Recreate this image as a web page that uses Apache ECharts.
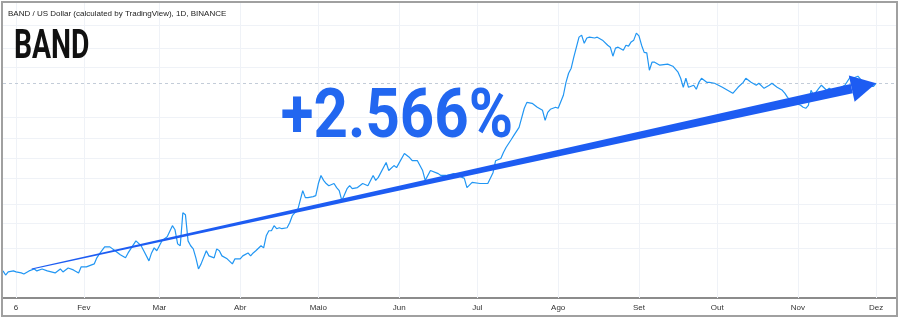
<!DOCTYPE html>
<html><head><meta charset="utf-8">
<script src="https://cdn.jsdelivr.net/npm/echarts@6/dist/echarts.min.js"></script>
<style>html,body{margin:0;padding:0;background:#fff}#c{width:900px;height:320px}</style>
</head><body><div id="c"></div>
<script>
// ---- data (daily closes, approx.) ----
const dates = [
'2020-01-01','2020-01-02','2020-01-03','2020-01-05','2020-01-06','2020-01-08','2020-01-09','2020-01-11','2020-01-13','2020-01-14',
'2020-01-16','2020-01-18','2020-01-21','2020-01-23','2020-01-24','2020-01-26','2020-01-28','2020-01-30','2020-01-31','2020-02-02',
'2020-02-05','2020-02-06','2020-02-07','2020-02-09','2020-02-11','2020-02-13','2020-02-15','2020-02-17','2020-02-18','2020-02-20',
'2020-02-21','2020-02-23','2020-02-24','2020-02-26','2020-02-27','2020-02-28','2020-02-29','2020-03-02','2020-03-04','2020-03-06',
'2020-03-07','2020-03-08','2020-03-09','2020-03-10','2020-03-11','2020-03-12','2020-03-13','2020-03-14','2020-03-15','2020-03-16',
'2020-03-17','2020-03-19','2020-03-20','2020-03-22','2020-03-23','2020-03-24','2020-03-25','2020-03-27','2020-03-29','2020-03-30',
'2020-04-01','2020-04-02','2020-04-04','2020-04-05','2020-04-06','2020-04-07','2020-04-09','2020-04-10','2020-04-11','2020-04-12',
'2020-04-13','2020-04-14','2020-04-15','2020-04-16','2020-04-17','2020-04-19','2020-04-20','2020-04-21','2020-04-22','2020-04-23',
'2020-04-24','2020-04-25','2020-04-26','2020-04-27','2020-04-29','2020-04-30','2020-05-01','2020-05-02','2020-05-03','2020-05-04',
'2020-05-05','2020-05-07','2020-05-08','2020-05-09','2020-05-10','2020-05-12','2020-05-13','2020-05-14','2020-05-16','2020-05-18',
'2020-05-20','2020-05-22','2020-05-23','2020-05-24','2020-05-27','2020-05-28','2020-05-30','2020-05-31','2020-06-03','2020-06-05',
'2020-06-06','2020-06-08','2020-06-10','2020-06-11','2020-06-13','2020-06-16','2020-06-17','2020-06-19','2020-06-22','2020-06-26',
'2020-06-27','2020-06-29','2020-07-02','2020-07-05','2020-07-07','2020-07-08','2020-07-10','2020-07-11','2020-07-12','2020-07-14',
'2020-07-15','2020-07-17','2020-07-19','2020-07-20','2020-07-22','2020-07-24','2020-07-26','2020-07-27','2020-07-28','2020-07-29',
'2020-07-31','2020-08-01','2020-08-03','2020-08-04','2020-08-05','2020-08-06','2020-08-07','2020-08-09','2020-08-10','2020-08-11',
'2020-08-12','2020-08-13','2020-08-15','2020-08-16','2020-08-18','2020-08-20','2020-08-21','2020-08-22','2020-08-23','2020-08-24',
'2020-08-26','2020-08-27','2020-08-28','2020-08-29','2020-08-30','2020-08-31','2020-09-01','2020-09-02','2020-09-03','2020-09-04',
'2020-09-05','2020-09-06','2020-09-07','2020-09-09','2020-09-12','2020-09-14','2020-09-16','2020-09-17','2020-09-18','2020-09-19',
'2020-09-20','2020-09-22','2020-09-23','2020-09-24','2020-09-25','2020-09-27','2020-09-28','2020-09-30','2020-10-03','2020-10-05',
'2020-10-07','2020-10-09','2020-10-11','2020-10-12','2020-10-14','2020-10-16','2020-10-17','2020-10-19','2020-10-21','2020-10-22',
'2020-10-24','2020-10-26','2020-10-27','2020-10-28','2020-10-30','2020-10-31','2020-11-02','2020-11-03','2020-11-04','2020-11-05',
'2020-11-06','2020-11-07','2020-11-09','2020-11-10','2020-11-12','2020-11-13','2020-11-14','2020-11-16','2020-11-17','2020-11-19',
'2020-11-21','2020-11-22','2020-11-24','2020-11-26','2020-11-29','2020-11-30','2020-12-01'
];
const prices = [
0.230,0.214,0.226,0.230,0.226,0.222,0.218,0.230,0.238,0.230,
0.238,0.230,0.222,0.238,0.226,0.242,0.234,0.222,0.247,0.247,
0.260,0.289,0.310,0.350,0.350,0.327,0.305,0.289,0.315,0.363,
0.389,0.357,0.327,0.274,0.315,0.344,0.327,0.389,0.418,0.507,
0.472,0.369,0.357,0.636,0.614,0.389,0.357,0.338,0.289,0.238,
0.260,0.327,0.299,0.289,0.338,0.327,0.299,0.284,0.260,0.284,
0.284,0.299,0.315,0.299,0.315,0.327,0.357,0.344,0.425,0.464,
0.464,0.507,0.481,0.489,0.481,0.489,0.534,0.604,0.636,0.659,
0.785,0.936,0.828,0.828,0.843,0.858,1.06,1.22,1.12,1.06,
1.02,1.06,0.987,0.936,0.785,0.969,1.02,0.969,0.987,1.06,
1.02,1.22,1.12,1.18,1.53,1.33,1.45,1.40,1.79,1.67,
1.58,1.58,1.33,1.12,1.33,1.26,1.22,1.22,1.26,1.16,
0.987,1.08,1.06,1.06,1.28,1.58,1.64,1.82,1.99,2.29,
2.46,2.83,3.95,4.38,4.31,4.02,3.81,3.20,3.68,3.88,
4.02,3.95,4.96,6.22,7.29,7.96,9.65,13.7,14.2,12.3,
13.5,13.7,13.5,13.7,13.0,11.9,11.5,9.82,11.3,11.5,
10.9,11.9,11.7,12.6,13.0,14.7,14.0,11.9,10.5,10.4,
7.68,8.84,8.84,8.39,8.54,8.24,7.42,6.68,5.70,6.68,
5.70,5.91,5.51,6.22,6.68,6.22,6.22,6.12,5.70,5.41,
5.13,5.70,6.22,6.68,6.22,5.91,6.12,5.60,5.91,6.12,
5.70,5.41,5.13,4.78,4.38,4.31,4.16,4.02,3.95,4.16,
5.41,4.96,5.60,5.91,5.41,5.60,5.41,5.60,5.60,5.91,
6.80,6.68,6.92,6.22,5.80,5.80,6.12
];
const tickDates = ['2020-01-06','2020-02-01','2020-03-01','2020-04-01','2020-05-01','2020-06-01','2020-07-01','2020-08-01','2020-09-01','2020-10-01','2020-11-01','2020-12-01'];
const tickLabels = ['6','Fev','Mar','Abr','Maio','Jun','Jul','Ago','Set','Out','Nov','Dez'];
const gridPrices = [0.338,0.525,0.745,1.16,1.64,2.33,3.37,8.10,11.3,16.9];
const lastPrice = 6.12;
const xStart = '2020-01-01', xEnd = '2020-12-09';
const yMin = 0.1432, yMax = 24.89;
const arrowFrom = ['2020-01-12', 0.238];
const arrowTo = ['2020-12-01', 6.12];
const subtitleText = 'BAND / US Dollar (calculated by TradingView), 1D, BINANCE';
const titleText = 'BAND';
const changeText = '+2.566%';

// ---- build ----
const T = d => Date.parse(d + 'T00:00:00Z');
const tickTimes = tickDates.map(T);
const seriesData = dates.map((d, i) => [T(d), prices[i]]);
const labelFor = v => { const i = tickTimes.findIndex(t => Math.abs(t - v) < 43200000); return i >= 0 ? tickLabels[i] : ''; };
const gridColor = '#eff2f7';
const bigFont = 'Roboto,"DejaVu Sans Condensed",sans-serif';

const chart = echarts.init(document.getElementById('c'), null, {renderer: 'canvas'});
chart.setOption({
  animation: false,
  backgroundColor: '#ffffff',
  grid: {left: 3, right: 3, top: 3, bottom: 22},
  xAxis: {
    type: 'value', min: T(xStart), max: T(xEnd), scale: true,
    axisLine: {show: true, onZero: false, lineStyle: {color: '#8c8c8c', width: 2}},
    axisTick: {show: false, customValues: tickTimes},
    splitLine: {show: false},
    axisLabel: {
      customValues: tickTimes,
      formatter: v => labelFor(v),
      fontSize: 8, color: '#333', margin: 6, fontFamily: '"Liberation Sans",Arial,sans-serif',
      hideOverlap: false, showMinLabel: true, showMaxLabel: true
    }
  },
  yAxis: {type: 'log', min: yMin, max: yMax, show: false, splitLine: {show: false}},
  series: [
    {
      type: 'line', data: seriesData, showSymbol: false, symbol: 'none', z: 2,
      lineStyle: {color: '#2196f3', width: 1.2},
      markLine: {
        silent: true, z: 1, symbol: ['none', 'none'], animation: false,
        label: {show: false}, emphasis: {disabled: true},
        lineStyle: {color: gridColor, width: 1, type: 'solid'},
        data: [
          ...gridPrices.map(p => ({yAxis: p})),
          ...tickTimes.map(t => ({xAxis: t})),
          {yAxis: lastPrice, lineStyle: {color: '#c3ccd8', type: [3, 3], width: 1}}
        ]
      }
    },
    {
      type: 'custom', z: 4, silent: true,
      data: [[T(arrowFrom[0]), arrowFrom[1], T(arrowTo[0]), arrowTo[1]]],
      encode: {x: [0, 2], y: [1, 3]},
      renderItem: (params, api) => {
        const s = api.coord([api.value(0), api.value(1)]);
        const t = api.coord([api.value(2), api.value(3)]);
        const dx = t[0] - s[0], dy = t[1] - s[1], L = Math.hypot(dx, dy);
        const ux = dx / L, uy = dy / L, nx = -uy, ny = ux;
        const headLen = 25, headHalf = 13.5, w0 = 0.5, w1 = 4.8;
        const bx = t[0] - ux * headLen, by = t[1] - uy * headLen;
        const col = '#1d5cf2';
        return {type: 'group', children: [
          {type: 'polygon', shape: {points: [[s[0] + nx * w0, s[1] + ny * w0], [bx + nx * w1, by + ny * w1], [bx - nx * w1, by - ny * w1], [s[0] - nx * w0, s[1] - ny * w0]]}, style: {fill: col}},
          {type: 'polygon', shape: {points: [[bx + nx * headHalf, by + ny * headHalf], [t[0], t[1]], [bx - nx * headHalf, by - ny * headHalf]]}, style: {fill: col}}
        ]};
      }
    }
  ],
  graphic: [
    {type: 'rect', z: 100, silent: true, shape: {x: 2, y: 2, width: 895, height: 314}, style: {fill: 'none', stroke: '#a0a0a0', lineWidth: 2}},
    {type: 'text', z: 50, x: 8, y: 14, style: {text: subtitleText, font: '8px "Liberation Sans",Arial,sans-serif', fill: '#222', textAlign: 'left', textVerticalAlign: 'middle'}},
    {type: 'text', z: 50, x: 14, y: 48, scaleX: 0.69, style: {text: titleText, font: 'bold 41px ' + bigFont, fill: '#111', textAlign: 'left', textVerticalAlign: 'middle'}},
    {type: 'text', z: 50, x: 397, y: 120, scaleX: 0.87, style: {text: changeText, font: 'bold 69px ' + bigFont, fill: '#2267f0', textAlign: 'center', textVerticalAlign: 'middle'}}
  ]
});
</script></body></html>
